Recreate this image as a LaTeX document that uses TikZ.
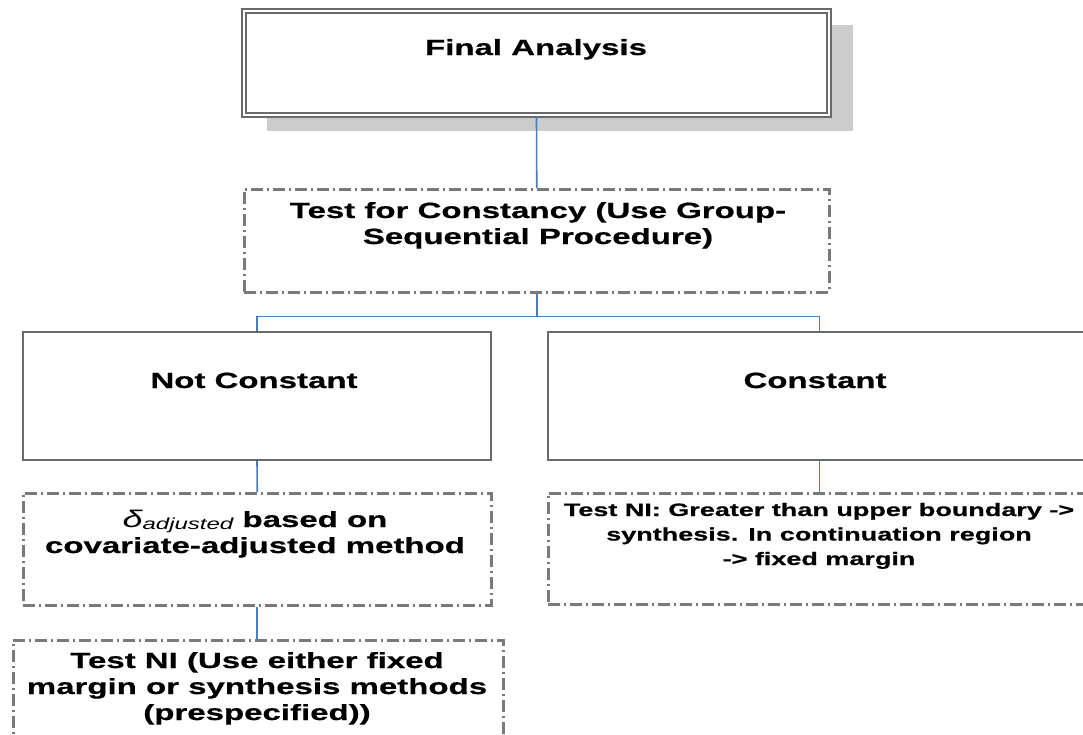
\documentclass[tikz,border=0pt]{standalone}
\usepackage{fontspec}
\setmainfont{Liberation Sans}[FakeStretch=1.5, BoldFeatures={FakeBold=0.6}]
\usetikzlibrary{calc}
\definecolor{lineblue}{HTML}{4A7EBB}
\definecolor{boxgray}{HTML}{6A6A6A}
\definecolor{dashgray}{HTML}{7A7A7A}
\definecolor{shadowgray}{HTML}{CCCCCC}
\tikzset{
  boxbase/.style={anchor=north west, inner sep=0pt, fill=white},
  solidbox/.style={boxbase, draw=boxgray, line width=2pt},
  dashbox/.style={boxbase, draw=dashgray, line width=2.5pt,
    dash pattern=on 12pt off 4pt on 2pt off 4pt},
  doublebox/.style={boxbase, draw=boxgray, line width=2pt, double=white, double distance=1.6pt},
  maintext/.style={anchor=base, inner sep=0pt, align=center,
    font=\fontsize{22}{26}\selectfont\bfseries},
  smalltext/.style={anchor=base, inner sep=0pt, align=center,
    font=\fontsize{18}{24.5}\selectfont\bfseries},
  conn/.style={draw=lineblue, line width=1.6pt}
}
\begin{document}
\begin{tikzpicture}[x=1pt,y=-1pt]
\useasboundingbox (0,0) rectangle (1083,734);
% shadow
\fill[shadowgray] (267,25) rectangle (853,131);
% boxes
\node[doublebox, minimum width=585pt, minimum height=104pt] (fa) at (243,10) {};
\node[dashbox, minimum width=585pt, minimum height=103pt] (tc) at (243,188) {};
\node[solidbox, minimum width=468pt, minimum height=128pt] (nc) at (22,331) {};
\node[solidbox, minimum width=543pt, minimum height=128pt] (co) at (547,331) {};
\node[dashbox, minimum width=468pt, minimum height=112pt] (da) at (22,492) {};
\node[dashbox, minimum width=545pt, minimum height=111pt] (gr) at (547,492) {};
\node[dashbox, minimum width=490pt, minimum height=110pt] (ni) at (12,639) {};
% connectors
\draw[conn] (fa.south) -- (tc.north);
\coordinate (j) at ($(tc.south)+(0,23)$);
\draw[conn] (tc.south) -- (j) -| (nc.north);
\draw[conn] (j) -| (co.north);
\draw[conn] (nc.south) -- (da.north);
\draw[conn] (co.south) -- (co.south |- gr.north);
\draw[conn] (da.south) -- (da.south |- ni.north);
% texts (base anchor = baseline of the last line)
\node[maintext] (faT) at (536,55) {Final Analysis};
\node[maintext] (tcT) at (538,244) {Test for Constancy (Use Group-\\Sequential Procedure)};
\node[maintext] (ncT) at (254,388) {Not Constant};
\node[maintext] (coT) at (815,388) {Constant};
\node[maintext] (daT) at (255,553) {{\mdseries\itshape\fontsize{24}{26}\selectfont δ\raisebox{-2pt}{\fontsize{16}{18}\selectfont adjusted}} based on\\covariate-adjusted method};
\node[maintext] (niT) at (257,720) {Test NI (Use either fixed\\margin or synthesis methods\\(prespecified))};
\node[smalltext] (grT) at (819,565) {Test NI: Greater than upper boundary ->\\synthesis. In continuation region\\-> fixed margin};
\end{tikzpicture}
\end{document}
